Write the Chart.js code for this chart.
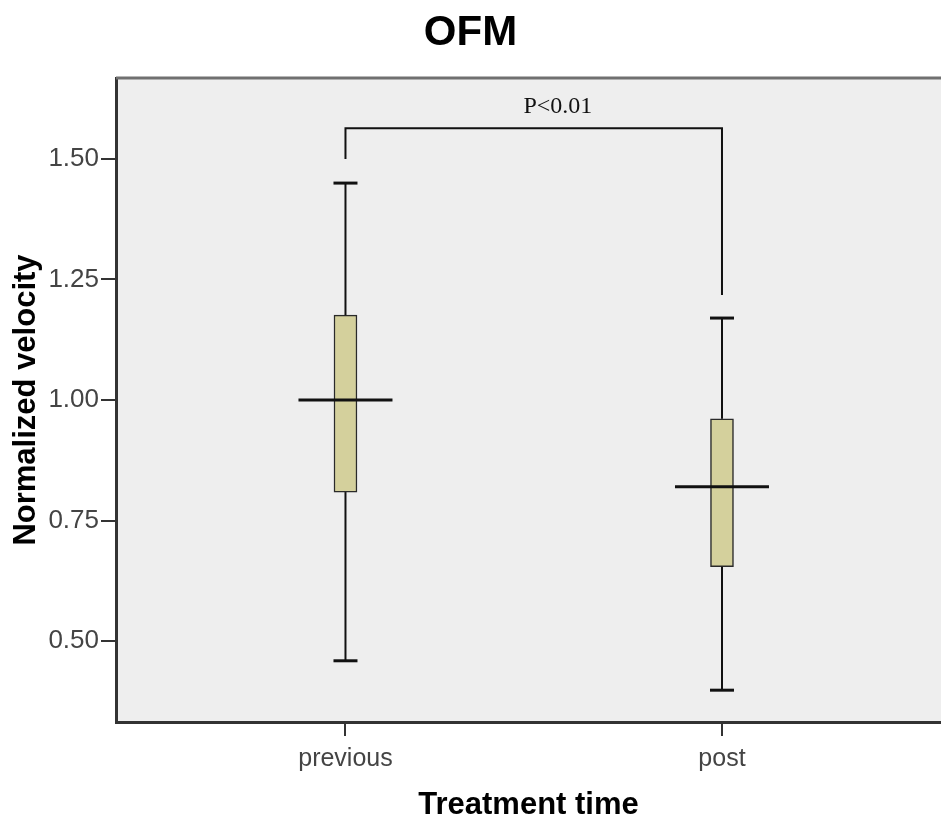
<!DOCTYPE html>
<html><head><meta charset="utf-8">
<script src="https://cdn.jsdelivr.net/npm/chart.js@4/dist/chart.umd.min.js"></script>
<style>html,body{margin:0;padding:0;background:#fff;overflow:hidden}</style>
</head><body>
<canvas id="c" width="941" height="821"></canvas>
<script>
// ---- data ----
const categories = ['previous', 'post'];
const catPos = [1, 2];
const whiskerLow = [0.459, 0.398];
const q1 = [0.809, 0.654];
const median = [1.000, 0.820];
const q3 = [1.176, 0.961];
const whiskerHigh = [1.450, 1.170];
const yTicks = [0.50, 0.75, 1.00, 1.25, 1.50];
const bracketTop = 1.564;
const bracketLegLow = [1.50, 1.218];
const pLabel = 'P<0.01';
const pLabelPos = { x: 1.564, y: 1.595 };

const SANS = '"Liberation Sans", Arial, sans-serif';
const SERIF = '"Liberation Serif", "Times New Roman", serif';

const extras = {
  id: 'extras',
  beforeDraw(chart) {
    const { ctx, chartArea: a } = chart;
    ctx.save();
    ctx.fillStyle = '#eeeeee';
    ctx.fillRect(a.left, a.top, a.right - a.left, a.bottom - a.top);
    ctx.restore();
  },
  afterDatasetsDraw(chart) {
    const { ctx, chartArea: a } = chart;
    const xs = chart.scales.x, ys = chart.scales.y;
    const capHalf = 12, medHalf = 47;
    ctx.save();
    ctx.strokeStyle = '#111';
    ctx.lineCap = 'butt';
    const line = (x1, y1, x2, y2, w) => {
      ctx.lineWidth = w; ctx.beginPath(); ctx.moveTo(x1, y1); ctx.lineTo(x2, y2); ctx.stroke();
    };
    catPos.forEach((c, i) => {
      const x = xs.getPixelForValue(c);
      line(x, ys.getPixelForValue(whiskerHigh[i]), x, ys.getPixelForValue(q3[i]), 2);
      line(x, ys.getPixelForValue(q1[i]), x, ys.getPixelForValue(whiskerLow[i]), 2);
      line(x - capHalf, ys.getPixelForValue(whiskerHigh[i]), x + capHalf, ys.getPixelForValue(whiskerHigh[i]), 3);
      line(x - capHalf, ys.getPixelForValue(whiskerLow[i]), x + capHalf, ys.getPixelForValue(whiskerLow[i]), 3);
      line(x - medHalf, ys.getPixelForValue(median[i]), x + medHalf, ys.getPixelForValue(median[i]), 3);
    });
    const bx1 = xs.getPixelForValue(catPos[0]), bx2 = xs.getPixelForValue(catPos[1]);
    const by = ys.getPixelForValue(bracketTop);
    ctx.lineWidth = 2;
    ctx.beginPath();
    ctx.moveTo(bx1, ys.getPixelForValue(bracketLegLow[0]));
    ctx.lineTo(bx1, by);
    ctx.lineTo(bx2, by);
    ctx.lineTo(bx2, ys.getPixelForValue(bracketLegLow[1]));
    ctx.stroke();
    ctx.fillStyle = '#111';
    ctx.font = '24px ' + SERIF;
    ctx.textAlign = 'center';
    ctx.textBaseline = 'alphabetic';
    ctx.fillText(pLabel, xs.getPixelForValue(pLabelPos.x), ys.getPixelForValue(pLabelPos.y));
    ctx.strokeStyle = '#707070';
    line(a.left, a.top, a.right, a.top, 3);
    ctx.restore();
  }
};

new Chart(document.getElementById('c'), {
  type: 'bar',
  data: {
    datasets: [{
      data: categories.map((c, i) => ({ x: catPos[i], y: [q1[i], q3[i]] })),
      backgroundColor: '#d4d09c',
      borderColor: '#2a2a2a',
      borderWidth: 1.5,
      borderSkipped: false,
      barThickness: 23
    }]
  },
  options: {
    responsive: false,
    animation: false,
    devicePixelRatio: 1,
    layout: { padding: 0 },
    plugins: {
      legend: { display: false },
      tooltip: { enabled: false },
      title: {
        display: true, text: 'OFM', color: '#000',
        font: { family: SANS, size: 42, weight: 'bold', lineHeight: 1.2 },
        padding: { top: 8, bottom: 19.6 }
      }
    },
    scales: {
      x: {
        type: 'linear', min: 0.3905, max: 2.5817, offset: false,
        afterBuildTicks: s => { s.ticks = catPos.map(v => ({ value: v })); },
        afterFit: s => { s.height = 99; },
        ticks: {
          callback: v => categories[catPos.indexOf(v)],
          font: { family: SANS, size: 25 }, color: '#444', padding: 8, maxRotation: 0
        },
        grid: { offset: false, drawOnChartArea: false, drawTicks: true, tickLength: 14, color: '#333', lineWidth: 2 },
        border: { display: true, color: '#333', width: 3 },
        title: {
          display: true, text: 'Treatment time', color: '#000',
          font: { family: SANS, size: 31, weight: 'bold', lineHeight: 1 },
          padding: { top: 0, bottom: 0 }
        }
      },
      y: {
        type: 'linear', min: 0.332, max: 1.668,
        afterBuildTicks: s => { s.ticks = yTicks.map(v => ({ value: v })); },
        afterFit: s => { s.width = 116; },
        ticks: {
          callback: v => Number(v).toFixed(2),
          font: { family: SANS, size: 26 }, color: '#444', padding: 2
        },
        grid: { drawOnChartArea: false, drawTicks: true, tickLength: 15, color: '#333', lineWidth: 2 },
        border: { display: true, color: '#333', width: 3 },
        title: {
          display: true, text: 'Normalized velocity', color: '#000',
          font: { family: SANS, size: 31, weight: 'bold', lineHeight: 1.2 },
          padding: { top: 8, bottom: 0 }
        }
      }
    }
  },
  plugins: [extras]
});
</script>
</body></html>
